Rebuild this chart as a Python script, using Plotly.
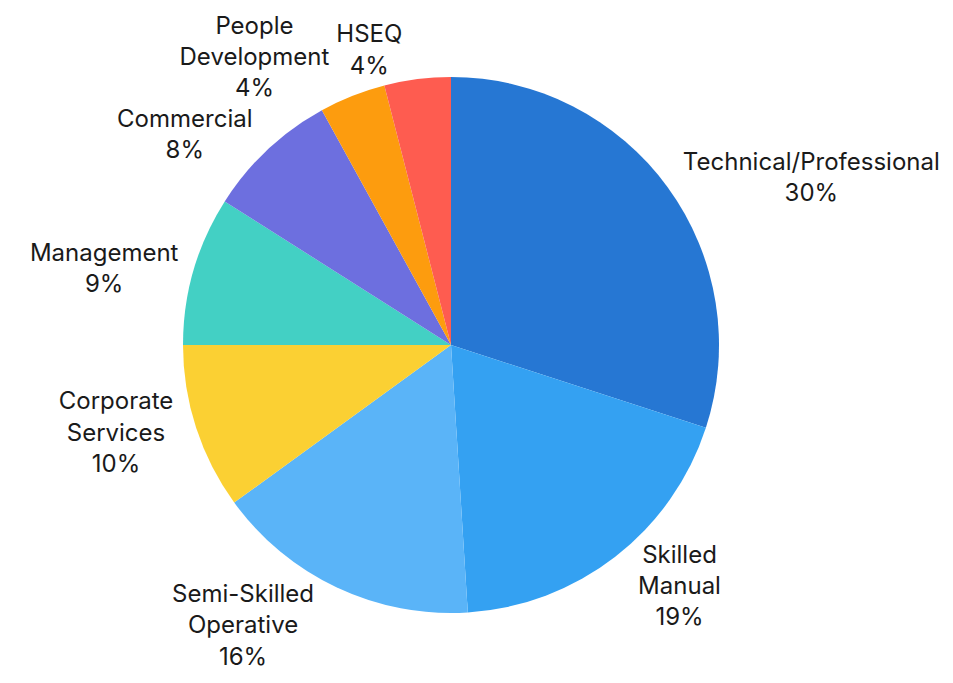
import plotly.graph_objects as go

categories = ["Technical/Professional", "Skilled<br>Manual", "Semi-Skilled<br>Operative",
              "Corporate<br>Services", "Management", "Commercial",
              "People<br>Development", "HSEQ"]
values = [30, 19, 16, 10, 9, 8, 4, 4]
colors = ["#2677d3", "#34a1f2", "#5ab4f8", "#fbd033", "#43d0c4", "#6d6fdf", "#fd9c0e", "#fe5c50"]

# labels of the main trace (HSEQ label drawn by an overlay trace so it is not stacked)
main_pos = ["outside"] * (len(categories) - 1) + ["none"]
overlay_pos = ["none"] * (len(categories) - 1) + ["outside"]

common = dict(
    labels=categories,
    values=values,
    sort=False,
    direction="clockwise",
    rotation=0,
    texttemplate="%{label}<br>%{percent:.0%}",
    textfont=dict(family="Inter", size=24, color="#1a1a1a"),
    showlegend=False,
)

fig = go.Figure()
fig.add_trace(go.Pie(marker=dict(colors=colors, line=dict(width=0)),
                     textposition=main_pos, **common))
fig.add_trace(go.Pie(marker=dict(colors=["rgba(0,0,0,0)"] * len(categories), line=dict(width=0)),
                     textposition=overlay_pos, hoverinfo="skip", **common))

fig.update_layout(
    width=953, height=683,
    margin=dict(l=175, r=242, t=69, b=78, autoexpand=False),
    paper_bgcolor="white",
    plot_bgcolor="white",
)

fig.write_html("out.html")
